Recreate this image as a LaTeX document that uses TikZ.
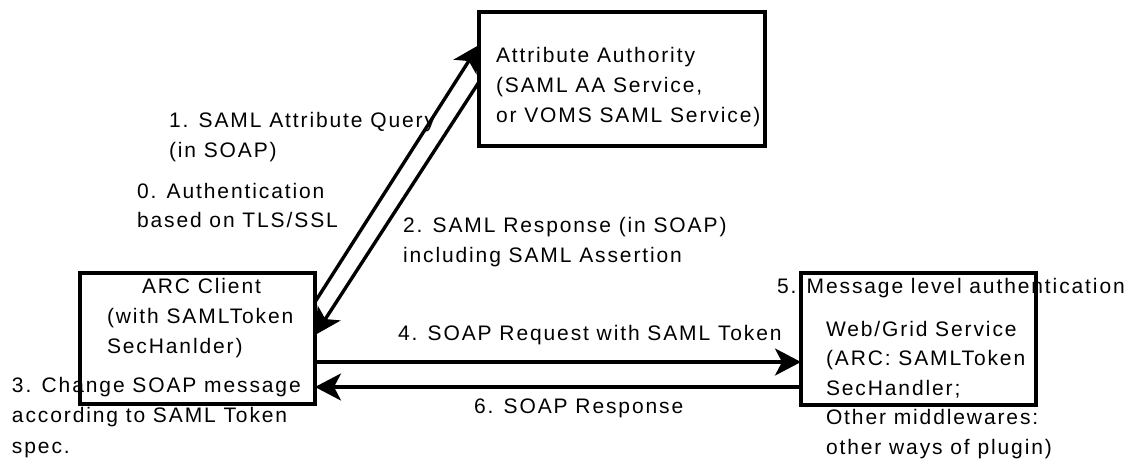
\documentclass[tikz,border=0pt]{standalone}
\usepackage{fontspec}
\setmainfont{Liberation Sans}[LetterSpace=9]
\usetikzlibrary{arrows.meta}
\tikzset{
  box/.style={draw=black, line width=3.6pt, inner sep=0pt, outer sep=0pt, fill=none},
  lbl/.style={anchor=base west, inner sep=0pt, outer sep=0pt, align=left,
    font=\fontsize{21}{30}\selectfont},
  arr/.style={line width=3.4pt, -{Stealth[length=26pt, width=27pt, inset=7pt]}},
}
\begin{document}
\begin{tikzpicture}[x=1pt, y=-1pt]
\useasboundingbox (0,0) rectangle (1136,461);
% boxes
\node[box, minimum width=286pt, minimum height=134pt] (aa) at (622,79) {};
\node[box, minimum width=235pt, minimum height=131pt] (arc) at (197.5,338.5) {};
\node[box, minimum width=235pt, minimum height=132pt] (web) at (918.5,339) {};
% texts (anchor = baseline of the last line)
\node[lbl] (aatext) at (496,122) {Attribute Authority\\(SAML AA Service,\\or VOMS SAML Service)};
\node[lbl] (q1) at (169,157) {1. SAML Attribute Query\\(in SOAP)};
\node[lbl, font=\fontsize{21}{29.5}\selectfont] (auth) at (137,227.5) {0. Authentication\\based on TLS/SSL};
\node[lbl] (resp) at (403,262) {2. SAML Response (in SOAP)\\including SAML Assertion};
\node[lbl] (arct1) at (142,293) {ARC Client};
\node[lbl, font=\fontsize{21}{30.5}\selectfont] (arct2) at (107,353.5) {(with SAMLToken\\SecHanlder)};
\node[lbl, font=\fontsize{21}{30.5}\selectfont] (step3) at (12,453) {3. Change SOAP message\\according to SAML Token\\spec.};
\node[lbl] (step5) at (777,293) {5. Message level authentication};
\node[lbl, font=\fontsize{21}{29.5}\selectfont] (webt) at (826,454) {Web/Grid Service\\(ARC: SAMLToken\\SecHandler;\\Other middlewares:\\other ways of plugin)};
\node[lbl] (req) at (398,340) {4. SOAP Request with SAML Token};
\node[lbl] (sresp) at (474,413) {6. SOAP Response};
% connectors
\draw[arr] ([yshift=-29pt]arc.north east) -- ([yshift=-33pt]aa.north west);
\draw[arr] ([yshift=-70pt]aa.north west) -- ([yshift=-62pt]arc.north east);
\draw[arr] ([yshift=-89pt]arc.north east) -- ([yshift=-89pt]web.north west);
\draw[arr] ([yshift=-114pt]web.north west) -- ([yshift=-114pt]arc.north east);
\end{tikzpicture}
\end{document}
